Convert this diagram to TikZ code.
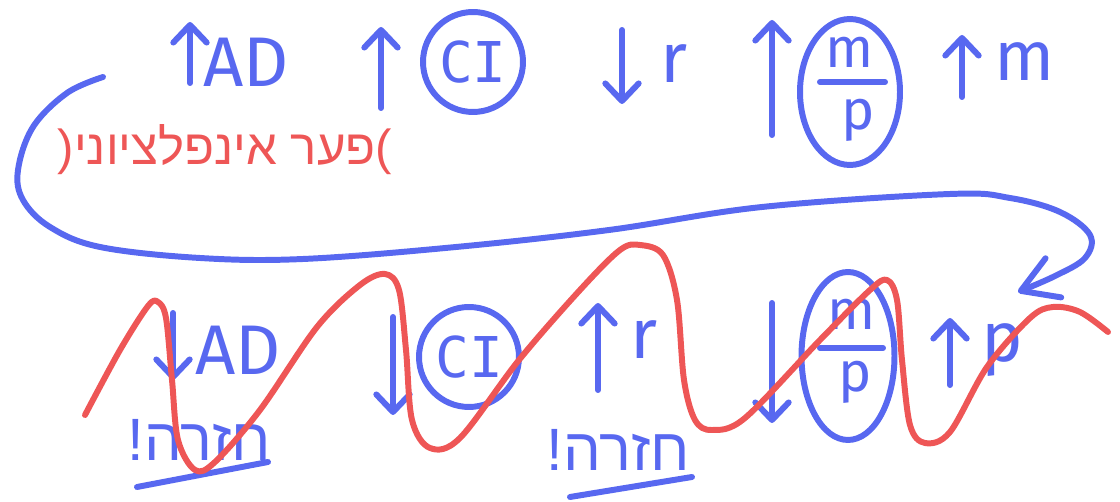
\documentclass[tikz,border=0pt]{standalone}
\usepackage{fontspec}
\setmainfont{Fira Sans}
\newfontfamily\hebfont[Script=Hebrew]{Liberation Sans}
\newfontfamily\cifont{DejaVu Sans Mono}
\TeXXeTstate=1
\usetikzlibrary{arrows.meta,shapes.geometric}

\definecolor{penblue}{RGB}{88,104,240}
\definecolor{penred}{RGB}{238,86,86}

\tikzset{
  pen/.style={penblue,line width=3.4pt,line cap=round,line join=round},
  redpen/.style={penred,line width=3.4pt,line cap=round,line join=round},
  updown/.style={pen,-{Straight Barb[length=10pt,width=19pt,round]}},
  bigtext/.style={text=penblue,inner sep=0pt,font=\fontsize{40}{44}\selectfont},
  fractext/.style={text=penblue,inner sep=0pt,font=\fontsize{32}{34}\selectfont},
  ring/.style={circle,draw=penblue,line width=3.4pt,minimum size=2cm,inner sep=0pt,
    text=penblue,font=\cifont\fontsize{32}{34}\selectfont},
  oval/.style={ellipse,draw=penblue,line width=3.4pt,inner sep=0pt},
  hebred/.style={text=penred,inner sep=0pt,font=\hebfont\fontsize{28}{30}\selectfont},
  hebblue/.style={text=penblue,inner sep=0pt,font=\hebfont\fontsize{34}{38}\selectfont}
}

\begin{document}
\begin{tikzpicture}[x=0.02cm,y=-0.02cm]
  \useasboundingbox (0,0) rectangle (1120,502);

  % upper chain
  \draw[updown] (190,83) -- (190,22);
  \node[bigtext] (adA) at (246,62) {AD};
  \draw[updown] (381,108) -- (381,27);
  \node[ring] (ciA) at (473,62) {CI};
  \draw[updown] (622,30) -- (622,104);
  \node[bigtext] (rA) at (674,64) {r};
  \draw[updown] (772,135) -- (772,20);
  \node[oval,minimum width=2cm,minimum height=2.92cm] (mpA) at (850,92) {};
  \node[fractext] (mA) at (850,52) {m};
  \draw[pen] (820,82) -- (885,82);
  \node[fractext] (pA) at (858,120) {p};
  \draw[updown] (962,97) -- (962,35);
  \node[bigtext] (mmA) at (1025,62) {m};

  \node[hebred] (gap) at (225,150) {(\beginR פער אינפלציוני\endR)};

  % lower chain
  \draw[updown] (173,313) -- (173,380);
  \node[bigtext] (adB) at (238,350) {AD};
  \draw[updown] (393,317) -- (393,415);
  \node[ring] (ciB) at (469,357) {CI};
  \draw[updown] (598,390) -- (598,303);
  \node[bigtext] (rB) at (644,340) {r};
  \draw[updown] (772,303) -- (772,423);
  \node[oval,minimum width=1.86cm,minimum height=3.36cm] (mpB) at (848,356) {};
  \node[fractext] (mB) at (852,314) {m};
  \draw[pen] (820,348) -- (883,348);
  \node[fractext] (pB) at (855,382) {p};
  \draw[updown] (950,385) -- (950,318);
  \node[bigtext] (ppB) at (1002,350) {p};

  \node[hebblue] (backA) at (199,440) {\beginR חזרה!\endR};
  \draw[pen] (137,487) -- (268,462);
  \node[hebblue] (backB) at (618,450) {\beginR חזרה!\endR};
  \draw[pen] (570,497) -- (692,477);

  % loop from the top row round to the bottom row
  \coordinate (loopstart) at (103,77);
  \coordinate (looptip) at (1018,292);
  \draw[pen,-{Straight Barb[length=20pt,width=24pt,round]}] plot[smooth,tension=0.6] coordinates {
    (loopstart) (67,93) (33,127) (18,170) (23,200) (50,227) (100,247) (200,258)
    (303,259) (456,247) (609,230) (762,207) (950,194) (1010,198) (1060,212)
    (1090,235) (1085,258) (1055,276) (looptip)};

  % the wave
  \draw[redpen] plot[smooth,tension=0.55] coordinates {
    (85,415) (120,350) (148,306) (158,302) (166,318) (172,380) (178,440) (195,470)
    (215,462) (260,410) (317,327) (360,285) (385,274) (399,290) (406,350) (412,420)
    (430,448) (460,438) (519,360) (580,290) (620,250) (640,245) (663,255) (677,300)
    (684,380) (695,420) (712,430) (745,418) (820,340) (870,290) (887,280) (897,300)
    (902,360) (910,425) (925,443) (950,432) (987,367) (1030,318) (1053,307)
    (1080,312) (1108,332)};
\end{tikzpicture}
\end{document}
